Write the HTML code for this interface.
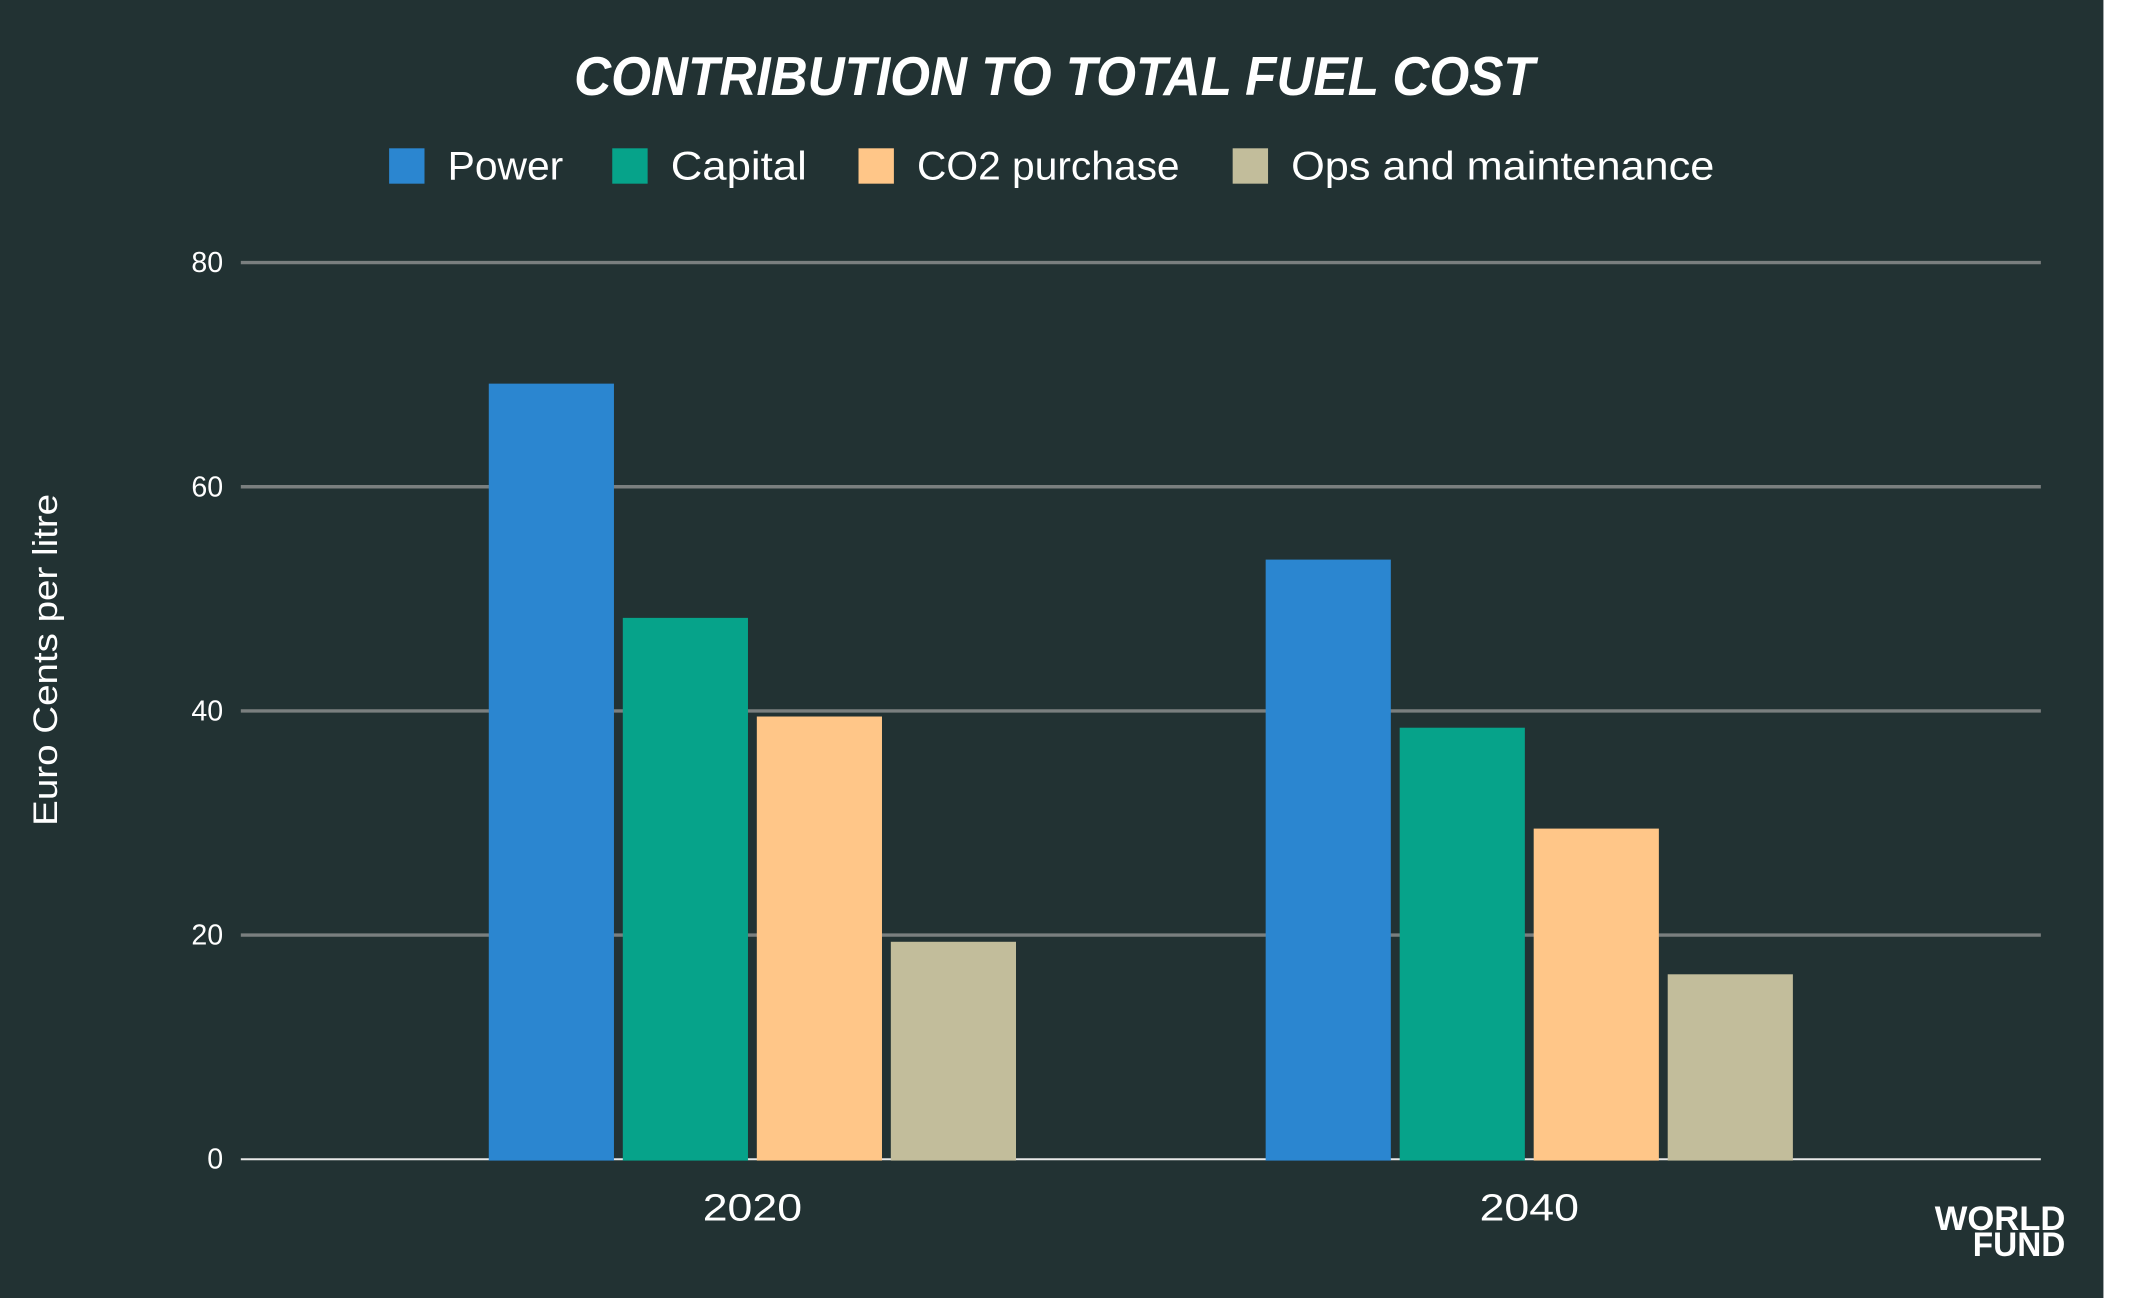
<!DOCTYPE html>
<html><head><meta charset="utf-8"><style>
html,body{margin:0;padding:0;background:#fff;}
svg{display:block;}
text{font-family:"Liberation Sans","DejaVu Sans",sans-serif;fill:#fff;}
</style></head><body>
<svg id="chart" width="2132" height="1298" viewBox="0 0 1567 954" preserveAspectRatio="none">
<rect x="0" y="0" width="1546" height="954" fill="#223233"/>
<text x="775" y="70" text-anchor="middle" font-size="40" font-weight="bold" font-style="italic" textLength="706" lengthAdjust="spacingAndGlyphs">CONTRIBUTION TO TOTAL FUEL COST</text>
<g id="legend"></g>
<g id="grid"></g>
<g id="bars"></g>
<g id="xlabels"></g>
<text transform="translate(42,485) rotate(-90)" text-anchor="middle" font-size="25" textLength="244" lengthAdjust="spacingAndGlyphs">Euro Cents per litre</text>
<g>
<text x="1518" y="904" text-anchor="end" font-size="25" font-weight="bold" textLength="96" lengthAdjust="spacingAndGlyphs">WORLD</text>
<text x="1518" y="923" text-anchor="end" font-size="25" font-weight="bold" textLength="68" lengthAdjust="spacingAndGlyphs">FUND</text>
</g>
</svg>
<script>
const categories = ["2020", "2040"];
const seriesNames = ["Power", "Capital", "CO2 purchase", "Ops and maintenance"];
const power = [69.2, 53.5];
const capital = [48.3, 38.5];
const co2 = [39.5, 29.5];
const ops = [19.4, 16.5];
const yTicks = [0, 20, 40, 60, 80];

const colors = ["#2b86d0", "#06a38a", "#ffc688", "#c2bd9b"];
const allSeries = [power, capital, co2, ops];
const NS = "http://www.w3.org/2000/svg";
const y0 = 852, yTop = 193, yMax = 80;
function yScale(v){ return y0 - (v / yMax) * (y0 - yTop); }
function groupCenter(i){ return 553 + i * 571; }
const barW = 92, barStep = 98.5;
function barX(i, s){ return groupCenter(i) - 2 * barStep + s * barStep + (barStep - barW) / 2; }

function mk(tag, attrs, parent){
  const e = document.createElementNS(NS, tag);
  for (const k in attrs) e.setAttribute(k, attrs[k]);
  parent.appendChild(e);
  return e;
}
const grid = document.getElementById('grid');
yTicks.forEach(t => {
  const y = yScale(t);
  const ln = mk('line', {x1:177, x2:1500, y1:y, y2:y, stroke: t===0 ? '#e8e8e8' : '#7a7f7f', 'stroke-width': t===0 ? 1.5 : 2.5}, grid);
  
  
  const tx = mk('text', {x:164, y:y+7, 'text-anchor':'end', 'font-size':21}, grid);
  tx.textContent = t;
  
  
});
const bars = document.getElementById('bars');
allSeries.forEach((vals, s) => {
  vals.forEach((v, i) => {
    const y = yScale(v);
    const r = mk('rect', {x:barX(i, s), y:y, width:barW, height:y0 - y + 1, fill:colors[s]}, bars);
    
    
  });
});
const xl = document.getElementById('xlabels');
categories.forEach((c, i) => {
  const t = mk('text', {x:groupCenter(i), y:897, 'text-anchor':'middle', 'font-size':28, textLength:73, lengthAdjust:'spacingAndGlyphs'}, xl);
  t.textContent = c;
  
  
});
const legend = document.getElementById('legend');
const legX = [286, 450, 631, 906];
const legLen = [85, 100, 193, 311];
seriesNames.forEach((n, s) => {
  const g = mk('g', {}, legend);
  
  
  mk('rect', {x:legX[s], y:109, width:26, height:26, fill:colors[s]}, g);
  const t = mk('text', {x:legX[s] + 43, y:132, 'font-size':29, textLength:legLen[s], lengthAdjust:'spacingAndGlyphs'}, g);
  t.textContent = n;
});
</script>
</body></html>
